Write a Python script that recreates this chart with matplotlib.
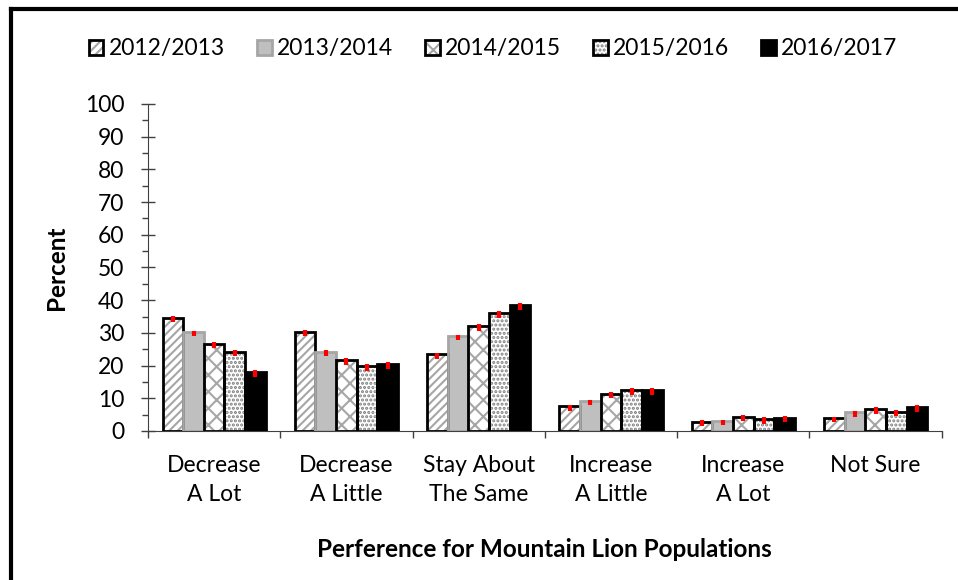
import numpy as np
import matplotlib.pyplot as plt
from matplotlib.lines import Line2D
from matplotlib.legend_handler import HandlerTuple
from matplotlib.ticker import MultipleLocator

categories = ["Decrease\nA Lot", "Decrease\nA Little", "Stay About\nThe Same",
              "Increase\nA Little", "Increase\nA Lot", "Not Sure"]
years = ["2012/2013", "2013/2014", "2014/2015", "2015/2016", "2016/2017"]

v2012 = [34.7, 30.4, 23.4, 7.5, 2.8, 3.9]
v2013 = [30.2, 24.3, 29.0, 9.1, 3.0, 5.7]
v2014 = [26.7, 21.6, 32.0, 11.4, 4.4, 6.7]
v2015 = [24.3, 19.9, 36.0, 12.5, 3.6, 5.9]
v2016 = [18.0, 20.4, 38.4, 12.5, 4.0, 7.2]
err = [0.9, 0.9, 1.0, 1.0, 1.0]

series = [v2012, v2013, v2014, v2015, v2016]
# fill, hatch, hatch colour, outline
styles = [
    ("white", "////", "#a6a6a6", "black"),
    ("#bfbfbf", "", "#bfbfbf", "#a6a6a6"),
    ("white", "xx", "#a6a6a6", "black"),
    ("white", "....", "#7f7f7f", "black"),
    ("black", "", "black", "black"),
]

plt.rcParams['font.family'] = ['Lato', 'DejaVu Sans']
plt.rcParams['hatch.linewidth'] = 1.5

fig = plt.figure(figsize=(9.58, 5.8), dpi=100)
ax = fig.add_axes([0.1545, 0.2569, 0.983 - 0.1545, 0.8207 - 0.2569])

x = np.arange(len(categories))
w = 0.156
handles = []
for i, (vals, (fc, hatch, hc, ec)) in enumerate(zip(series, styles)):
    pos = x + (i - 2) * w
    b1 = ax.bar(pos, vals, w, color=fc, hatch=hatch, edgecolor=hc, linewidth=0, zorder=2)
    b2 = ax.bar(pos, vals, w, fill=False, edgecolor=ec, linewidth=2, zorder=3)
    ax.errorbar(pos, np.array(vals) - 0.4, yerr=err[i], fmt='none', ecolor='red',
                elinewidth=3, capsize=0, zorder=4)
    handles.append((b1[0], b2[0]))

ax.set_xlim(-0.5, len(categories) - 0.5)
ax.set_ylim(0, 100)
ax.yaxis.set_major_locator(MultipleLocator(10))
ax.yaxis.set_minor_locator(MultipleLocator(5))
ax.set_xticks(x)
ax.set_xticklabels(categories, fontsize=16.5, linespacing=1.5)
ax.set_xticks(np.arange(len(categories) + 1) - 0.5, minor=True)
ax.tick_params(axis='x', which='major', length=0, pad=17)
ax.tick_params(axis='x', which='minor', length=5, width=1, color='#404040', direction='out')
ax.tick_params(axis='y', which='major', length=10, width=1, direction='inout',
               labelsize=16.5, pad=12, color='#404040')
ax.tick_params(axis='y', which='minor', length=4.5, width=1, direction='out', color='#404040')

for s in ['top', 'right']:
    ax.spines[s].set_visible(False)
ax.spines['left'].set_color('#404040')
ax.spines['bottom'].set_color('#404040')

ax.set_ylabel("Percent", fontsize=17.5, fontweight='bold', labelpad=12)
ax.set_xlabel("Perference for Mountain Lion Populations", fontsize=17.5,
              fontweight='bold', labelpad=24)

fig.legend(handles, years, loc='center', bbox_to_anchor=(493 / 958, 1 - 49 / 580), ncol=5,
           frameon=False, fontsize=16.5, handler_map={tuple: HandlerTuple(ndivide=1)},
           handlelength=0.65, handleheight=0.65, handletextpad=0.22, columnspacing=1.4)

# outer chart border (left and top edges only visible)
fig.add_artist(Line2D([11 / 958, 11 / 958], [0, 1 - 9 / 580], color='black', lw=3,
                      transform=fig.transFigure))
fig.add_artist(Line2D([11 / 958, 1], [1 - 9 / 580, 1 - 9 / 580], color='black', lw=3,
                      transform=fig.transFigure))

fig.savefig("out.png", dpi=100)
